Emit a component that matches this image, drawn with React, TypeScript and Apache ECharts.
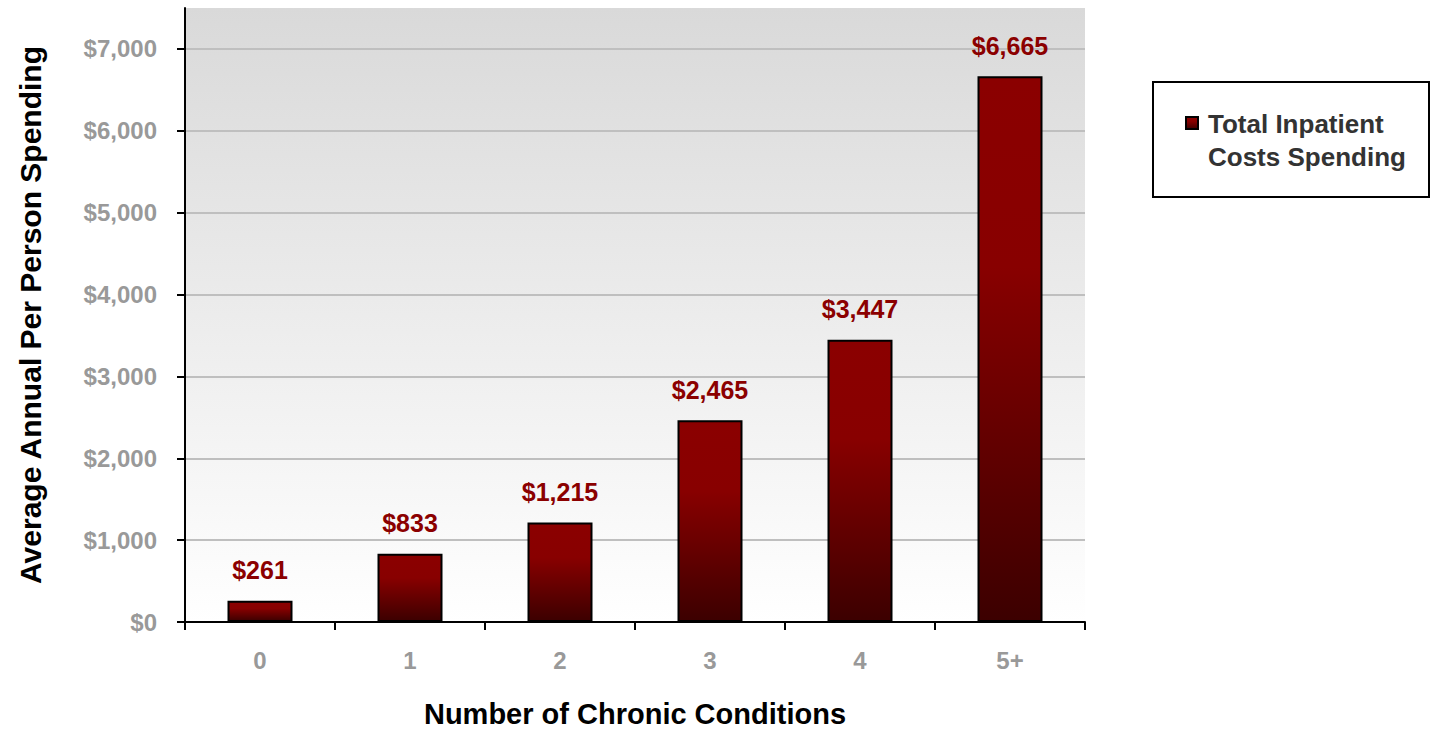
import React, { useEffect, useRef } from "react";
import * as echarts from "echarts";

const categories = ["0", "1", "2", "3", "4", "5+"];
const spending = [261, 833, 1215, 2465, 3447, 6665];
const seriesName = "Total Inpatient\nCosts Spending";
const yTicks = [0, 1000, 2000, 3000, 4000, 5000, 6000, 7000];

const FONT = "'Liberation Sans', Arial, sans-serif";

const barGradient = () =>
  new echarts.graphic.LinearGradient(0, 0, 0, 1, [
    { offset: 0, color: "#8b0000" },
    { offset: 0.35, color: "#880000" },
    { offset: 1, color: "#3c0000" },
  ]);

export default function App() {
  const ref = useRef<HTMLDivElement>(null);
  useEffect(() => {
    document.body.style.margin = "0";
    const chart = echarts.init(ref.current!, null, { renderer: "svg" });
    const fmt = (v: number) =>
      v > yTicks[yTicks.length - 1] ? "" : "$" + v.toLocaleString("en-US");
    chart.setOption({
      animation: false,
      textStyle: { fontFamily: FONT },
      grid: {
        left: 185,
        right: 345,
        top: 8,
        bottom: 109,
        outerBoundsMode: "none",
        containLabel: false,
        show: true,
        borderWidth: 0,
        backgroundColor: new echarts.graphic.LinearGradient(0, 0, 0, 1, [
          { offset: 0, color: "#d9d9d9" },
          { offset: 1, color: "#ffffff" },
        ]),
      },
      graphic: [
        {
          type: "rect",
          shape: { x: 1153, y: 82, width: 276, height: 115 },
          style: { fill: "#ffffff", stroke: "#000000", lineWidth: 2 },
          z: -1,
        },
        {
          type: "rect",
          shape: { x: 1186, y: 117, width: 12, height: 12 },
          style: {
            fill: barGradient(),
            stroke: "#000000",
            lineWidth: 2,
          },
        },
        {
          type: "text",
          x: 1208,
          y: 107,
          style: {
            text: seriesName,
            fontFamily: FONT,
            fontSize: 26,
            fontWeight: "bold",
            fill: "#333333",
            lineHeight: 33,
            align: "left",
            verticalAlign: "top",
          },
        },
      ],
      xAxis: {
        type: "category",
        data: categories,
        name: "Number of Chronic Conditions",
        nameLocation: "middle",
        nameGap: 82,
        nameTextStyle: {
          fontFamily: FONT,
          fontSize: 29,
          lineHeight: 20,
          fontWeight: "bold",
          color: "#000",
          verticalAlign: "top",
        },
        axisLine: { lineStyle: { color: "#000", width: 2 } },
        axisTick: { show: true, length: 8, lineStyle: { color: "#000", width: 2 } },
        axisLabel: {
          margin: 26,
          fontFamily: FONT,
          fontSize: 24,
          fontWeight: "bold",
          color: "#999999",
        },
      },
      yAxis: {
        type: "value",
        min: 0,
        max: 7500,
        interval: 1000,
        name: "Average Annual Per Person Spending",
        nameLocation: "middle",
        nameGap: 140,
        nameTextStyle: {
          fontFamily: FONT,
          fontSize: 30,
          fontWeight: "bold",
          color: "#000",
        },
        axisLine: { show: true, lineStyle: { color: "#000", width: 2 } },
        axisTick: {
          show: true,
          length: 8,
          customValues: yTicks,
          lineStyle: { color: "#000", width: 2 },
        },
        axisLabel: {
          formatter: fmt,
          customValues: yTicks,
          margin: 28,
          fontFamily: FONT,
          fontSize: 24,
          fontWeight: "bold",
          color: "#999999",
        },
        splitLine: {
          show: true,
          lineStyle: {
            width: 2,
            color: [
              "#bfbfbf",
              "#bfbfbf",
              "#bfbfbf",
              "#bfbfbf",
              "#bfbfbf",
              "#bfbfbf",
              "#bfbfbf",
              "#bfbfbf",
              "transparent",
            ],
          },
        },
      },
      series: [
        {
          type: "bar",
          name: seriesName,
          data: spending,
          barWidth: 65,
          itemStyle: {
            color: barGradient(),
            borderColor: "#000",
            borderWidth: 2,
          },
          label: {
            show: true,
            position: "top",
            distance: 18,
            formatter: (p: any) => "$" + Number(p.value).toLocaleString("en-US"),
            fontFamily: FONT,
            fontSize: 25,
            fontWeight: "bold",
            color: "#8b0000",
          },
        },
      ],
    });
    return () => chart.dispose();
  }, []);
  return <div ref={ref} style={{ width: 1430, height: 731 }} />;
}
